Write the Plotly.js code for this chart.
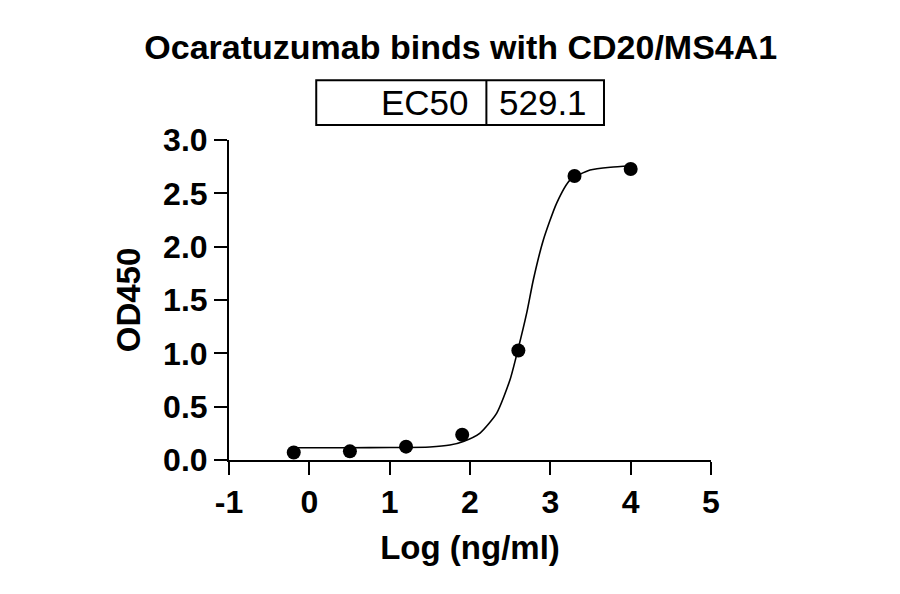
<!DOCTYPE html>
<html>
<head>
<meta charset="utf-8">
<script src="https://cdn.plot.ly/plotly-3.0.1.min.js"></script>
<style>
  html, body { margin: 0; padding: 0; background: #fff; }
  #chart { width: 900px; height: 594px; }
</style>
</head>
<body>
<div id="chart"></div>
<script>
// measured points: log10 of concentration (ng/ml), 5-fold dilutions
const logConc = [-0.194, 0.505, 1.204, 1.903, 2.602, 3.301, 4.0];
const od450 = [0.071, 0.081, 0.125, 0.237, 1.026, 2.662, 2.728];

// fitted curve
const curveX = [-0.194, 0.5, 1.0, 1.5, 1.75, 1.917, 2.125, 2.333, 2.498, 2.594, 2.706, 2.788, 2.913, 3.079, 3.245, 3.494, 3.75, 4.0];
const curveY = [0.115, 0.115, 0.117, 0.122, 0.14, 0.174, 0.253, 0.44, 0.752, 1.026, 1.379, 1.688, 2.063, 2.409, 2.624, 2.718, 2.745, 2.756];

const titleText = 'Ocaratuzumab binds with CD20/MS4A1';
const ec50Label = 'EC50';
const ec50Value = '529.1';

const xTicks = [-1, 0, 1, 2, 3, 4, 5];
const yTicks = [0, 0.5, 1.0, 1.5, 2.0, 2.5, 3.0];

const FONT = 'Liberation Sans, Arial, sans-serif';

function plotChart() {
    let curve = {
        mode: 'lines',
        x: curveX,
        y: curveY,
        line: { color: '#000', width: 1.6, shape: 'spline', smoothing: 0.6 },
        hoverinfo: 'skip',
        showlegend: false
    };

    let points = {
        mode: 'markers',
        x: logConc,
        y: od450,
        marker: { color: '#000', size: 14 },
        showlegend: false,
        cliponaxis: false
    };

    const axisCommon = {
        showgrid: false,
        zeroline: false,
        showline: true,
        linecolor: '#000',
        linewidth: 2,
        ticks: 'outside',
        ticklen: 13,
        tickwidth: 2,
        tickcolor: '#000',
        tickfont: { family: FONT, size: 32, color: '#000', weight: 'bold' }
    };

    const layout = {
        width: 900,
        height: 594,
        margin: { l: 229, r: 189, t: 140, b: 134 },
        paper_bgcolor: '#fff',
        plot_bgcolor: '#fff',
        title: {
            text: '<b>' + titleText + '</b>',
            font: { family: FONT, size: 34, color: '#000' },
            x: 0.512,
            xanchor: 'center',
            y: 0.921,
            yanchor: 'middle'
        },
        xaxis: Object.assign({}, axisCommon, {
            range: [-1, 5],
            tickvals: xTicks,
            ticktext: xTicks.map(String),
            title: {
                text: '<b>Log (ng/ml)</b>',
                font: { family: FONT, size: 33, color: '#000' },
                standoff: 16
            }
        }),
        yaxis: Object.assign({}, axisCommon, {
            range: [0, 3],
            tickvals: yTicks,
            ticktext: yTicks.map(v => v.toFixed(1)),
            title: {
                text: '<b>OD450</b>',
                font: { family: FONT, size: 33, color: '#000' },
                standoff: 13
            }
        }),
        // EC50 table above the plot
        shapes: [
            { type: 'rect', xref: 'paper', yref: 'paper', x0: 0.181, x1: 0.778, y0: 1.047, y1: 1.187,
              line: { color: '#000', width: 2 } },
            { type: 'line', xref: 'paper', yref: 'paper', x0: 0.534, x1: 0.534, y0: 1.047, y1: 1.187,
              line: { color: '#000', width: 2 } }
        ],
        annotations: [
            { xref: 'paper', yref: 'paper', x: 0.503, y: 1.117, xanchor: 'right', yanchor: 'middle',
              text: ec50Label, showarrow: false, font: { family: FONT, size: 35, color: '#000' } },
            { xref: 'paper', yref: 'paper', x: 0.556, y: 1.117, xanchor: 'left', yanchor: 'middle',
              text: ec50Value, showarrow: false, font: { family: FONT, size: 35, color: '#000' } }
        ]
    };

    Plotly.newPlot('chart', [curve, points], layout, { displayModeBar: false, staticPlot: true });
}

plotChart();
</script>
</body>
</html>
